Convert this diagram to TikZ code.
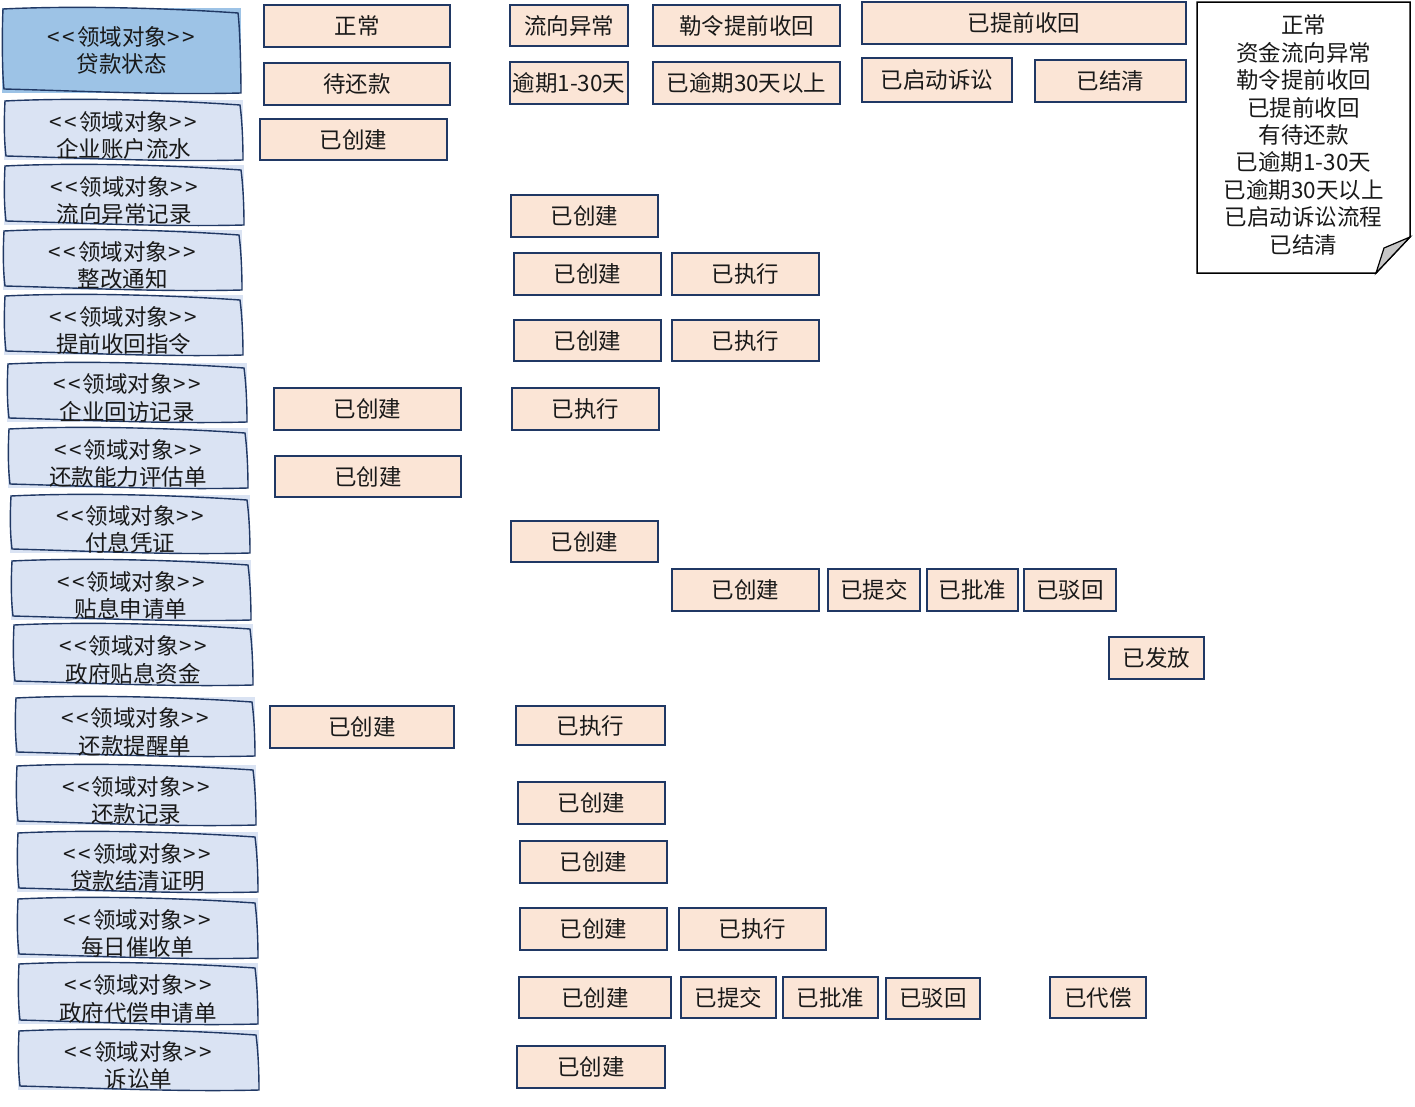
\documentclass[tikz,border=0pt]{standalone}
\usepackage{fontspec}
\newfontfamily\cjk{Noto Sans CJK SC}
\usetikzlibrary{fit,calc}
\definecolor{navy}{HTML}{203864}
\definecolor{peach}{HTML}{FBE5D6}
\definecolor{dlightc}{HTML}{DAE3F3}
\definecolor{ddarkc}{HTML}{9DC3E6}
\tikzset{
  sbox/.style={draw=navy, fill=peach, line width=1.6pt, inner sep=0pt,
    font=\cjk\fontsize{22.5}{26}\selectfont, text=black!90},
  dborder/.style={draw=navy, line width=1.4pt},
  dtext/.style={font=\cjk\fontsize{22.5}{27.5}\selectfont, align=center, inner sep=0pt, text=black!90},
  notebox/.style={draw=black, line width=1.5pt, fill=white},
  notefold/.style={draw=black, line width=1.2pt, fill=black!22},
  notetext/.style={font=\cjk\fontsize{22.5}{27.4}\selectfont, align=center, inner sep=0pt, text=black!90}
}
\newcommand\stbox[6]{\node[sbox, minimum width=#4pt, minimum height=#5pt] (#1) at (#2,#3) {#6};}
\newcommand\domlab{<\kern2.5pt<\kern2pt领域对象\kern1pt>\kern2.5pt>}
\newcommand\dobj[8][5.5]{%
  \node[fill=#7, inner sep=0pt, fit={(#3,#4)(#5+1,#6)}] (#2) {};
  \draw[dborder] (#3+1,#4+1) .. controls (#3+60,#4-2) and (#3+150,#4-1) .. (#5-2,#4+5)
    .. controls (#5,#4+20) and (#5+1,#6-20) .. (#5+1,#6)
    .. controls (#5-80,#6+2) and (#3+80,#6-2) .. (#3+2,#6-4)
    .. controls (#3,#6-20) and (#3,#4+20) .. cycle;
  \node[dtext] (#2t) at ($(#2.center)+(0,#1)$) {\domlab\\#8};
}
\begin{document}
\begin{tikzpicture}[x=1pt,y=-1pt]
\useasboundingbox (0,0) rectangle (1415,1106);

% domain objects
\dobj[0]{d1}{2}{8}{240}{93}{ddarkc}{贷款状态}
\dobj{d2}{4}{100}{242}{160}{dlightc}{企业账户流水}
\dobj{d3}{4}{165}{243}{225}{dlightc}{流向异常记录}
\dobj{d4}{3}{230}{241}{290}{dlightc}{整改通知}
\dobj{d5}{4}{295}{242}{355}{dlightc}{提前收回指令}
\dobj{d6}{7}{363}{246}{422}{dlightc}{企业回访记录}
\dobj{d7}{8}{428}{247}{488}{dlightc}{还款能力评估单}
\dobj{d8}{10}{495}{249}{553}{dlightc}{付息凭证}
\dobj{d9}{11}{560}{250}{620}{dlightc}{贴息申请单}
\dobj{d10}{13}{624}{252}{685}{dlightc}{政府贴息资金}
\dobj{d11}{15}{697}{254}{756}{dlightc}{还款提醒单}
\dobj{d12}{16}{765}{255}{825}{dlightc}{还款记录}
\dobj{d13}{17}{832}{257}{892}{dlightc}{贷款结清证明}
\dobj{d14}{17}{898}{257}{958}{dlightc}{每日催收单}
\dobj{d15}{18}{963}{257}{1024}{dlightc}{政府代偿申请单}
\dobj{d16}{18}{1030}{258}{1090}{dlightc}{诉讼单}

% loan states
\stbox{s1}{357}{26}{186}{42}{正常}
\stbox{s2}{569}{25.5}{118}{41}{流向异常}
\stbox{s3}{746.5}{25.5}{187}{41}{勒令提前收回}
\stbox{s4}{1024}{23}{324}{42}{已提前收回}
\stbox{s5}{357}{84}{186}{42}{待还款}
\stbox{s6}{569}{83}{118}{42}{逾期1-30天}
\stbox{s7}{746.5}{83}{187}{42}{已逾期30天以上}
\stbox{s8}{937}{80}{150}{44}{已启动诉讼}
\stbox{s9}{1110.5}{81}{151}{42}{已结清}

% object states
\stbox{a1}{353.5}{139.5}{187}{41}{已创建}
\stbox{b1}{584.5}{216}{147}{42}{已创建}
\stbox{c1}{587.5}{274}{147}{42}{已创建}
\stbox{c2}{745.5}{274}{147}{42}{已执行}
\stbox{e1}{587.5}{340.5}{147}{41}{已创建}
\stbox{e2}{745.5}{340.5}{147}{41}{已执行}
\stbox{f1}{367.5}{409}{187}{42}{已创建}
\stbox{f2}{585.5}{409}{147}{42}{已执行}
\stbox{g1}{368}{476.5}{186}{41}{已创建}
\stbox{h1}{584.5}{541.5}{147}{41}{已创建}
\stbox{i1}{745.5}{590}{147}{42}{已创建}
\stbox{i2}{874}{590}{92}{42}{已提交}
\stbox{i3}{972.5}{590}{91}{42}{已批准}
\stbox{i4}{1070}{590}{92}{42}{已驳回}
\stbox{j1}{1156.5}{658}{95}{42}{已发放}
\stbox{k1}{362}{727}{184}{42}{已创建}
\stbox{k2}{590.5}{725.5}{149}{39}{已执行}
\stbox{l1}{591.5}{803}{147}{42}{已创建}
\stbox{m1}{593.5}{862}{147}{42}{已创建}
\stbox{n1}{593.5}{929}{147}{42}{已创建}
\stbox{n2}{752.5}{929}{147}{42}{已执行}
\stbox{o1}{595}{997.5}{152}{41}{已创建}
\stbox{o2}{728.5}{997.5}{95}{41}{已提交}
\stbox{o3}{830.5}{997.5}{95}{41}{已批准}
\stbox{o4}{933}{998.5}{94}{41}{已驳回}
\stbox{o5}{1098}{997.5}{96}{41}{已代偿}
\stbox{p1}{591}{1067}{148}{42}{已创建}

% note
\draw[notebox] (1197,2) -- (1410,2) -- (1410,237) -- (1376,273) -- (1197,273) -- cycle;
\draw[notefold] (1410,237) -- (1384,248) -- (1376,273) -- cycle;
\node[notetext] (note) at (1303.5,135) {正常\\资金流向异常\\勒令提前收回\\已提前收回\\有待还款\\已逾期1-30天\\已逾期30天以上\\已启动诉讼流程\\已结清};
\end{tikzpicture}
\end{document}
